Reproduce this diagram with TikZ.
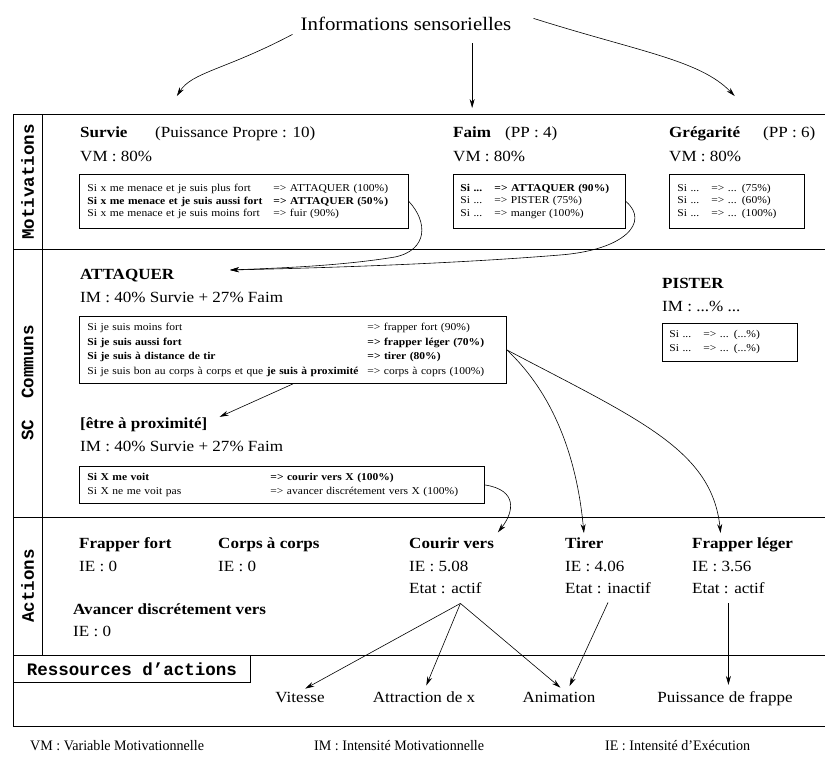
\documentclass[tikz,border=0pt]{standalone}
\usepackage{fontspec}
\setmainfont{Liberation Serif}[FakeStretch=1.1]
\setmonofont{Liberation Mono}
\newfontfamily\etroite{Liberation Serif}[FakeStretch=0.97]
\usetikzlibrary{arrows.meta,positioning,calc}

\newcommand\titre{\fontsize{19}{22}\selectfont}
\newcommand\grand{\fontsize{15.5}{18}\selectfont}
\newcommand\petit[1][12.5]{\fontsize{10.5}{#1}\selectfont}
\newcommand\legende{\etroite\fontsize{14.5}{17}\selectfont}
\newcommand\etiq{\fontsize{17.5}{20}\selectfont\ttfamily\bfseries}
\newcommand\regle[3]{\makebox[#1][l]{#2}#3}

\begin{document}
\begin{tikzpicture}[x=1pt,y=-1pt,
  cadre/.style={line width=1pt},
  fleche/.style={-{Stealth[length=9pt,width=5pt]},line width=0.6pt},
  texte/.style={anchor=base west,inner sep=0pt,font=\grand},
  entete/.style={texte,font=\grand\bfseries},
  ressource/.style={anchor=base,inner sep=0pt,font=\grand},
  regles/.style={draw,line width=0.9pt,anchor=north west,inner xsep=8pt,
                 inner ysep=0pt,align=left,font=\petit},
  colonne/.style={rotate=90,inner sep=0pt,font=\etiq}]

  \useasboundingbox (0,0) rectangle (825,776);

  % cadre general
  \draw[cadre] (825,114) -- (13,114) -- (13,726) -- (825,726);
  \draw[cadre] (13,249) -- (825,249);
  \draw[cadre] (13,517) -- (825,517);
  \draw[cadre] (13,655) -- (825,655);
  \draw[cadre] (42,114) -- (42,655);

  \node[colonne] (lmotiv) at (27.5,182) {Motivations};
  \node[colonne] (lsc) at (27.5,383) {SC\ \ Communs};
  \node[colonne] (lact) at (27.5,586) {Actions};
  \node[draw,cadre,anchor=north west,minimum width=237pt,minimum height=27pt,
        inner sep=0pt,font=\etiq] (lres) at (13,655) {Ressources d’actions};

  % entree
  \node[anchor=base,inner sep=0pt,font=\titre] (sens) at (406,31) {Informations sensorielles};

  % motivations
  \node[entete] (survie) at (80,137) {Survie};
  \node[texte] (ppsurvie) at (155,137) {(Puissance Propre : 10)};
  \node[texte] (vmsurvie) at (80,161) {VM : 80\%};
  \node[entete] (faim) at (453,137) {Faim};
  \node[texte] (ppfaim) at (505,137) {(PP : 4)};
  \node[texte] (vmfaim) at (453,161) {VM : 80\%};
  \node[entete] (greg) at (669,137) {Grégarité};
  \node[texte] (ppgreg) at (763,137) {(PP : 6)};
  \node[texte] (vmgreg) at (669,161) {VM : 80\%};

  \node[regles,text width=313pt,minimum height=54pt] (survbox) at (79,174) {%
    \regle{186pt}{Si x me menace et je suis plus fort}{=> ATTAQUER (100\%)}\\
    \regle{186pt}{\textbf{Si x me menace et je suis aussi fort}}{\textbf{=> ATTAQUER (50\%)}}\\
    \regle{186pt}{Si x me menace et je suis moins fort}{=> fuir (90\%)}};
  \node[regles,inner xsep=7pt,text width=158pt,minimum height=54pt] (faimbox) at (453,174) {%
    \regle{34pt}{\textbf{Si ...}}{\textbf{=> ATTAQUER (90\%)}}\\
    \regle{34pt}{Si ...}{=> PISTER (75\%)}\\
    \regle{34pt}{Si ...}{=> manger (100\%)}};
  \node[regles,text width=119pt,minimum height=54pt] (gregbox) at (669,174) {%
    \regle{34pt}{Si ...}{=> ... (75\%)}\\
    \regle{34pt}{Si ...}{=> ... (60\%)}\\
    \regle{34pt}{Si ...}{=> ... (100\%)}};

  % sc communs
  \node[entete] (attaquer) at (80,279) {ATTAQUER};
  \node[texte] (imatq) at (80,302) {IM : 40\% Survie + 27\% Faim};
  \node[regles,text width=411pt,minimum height=67pt,font={\petit[14.5]}] (atqbox) at (79,316) {%
    \regle{280pt}{Si je suis moins fort}{=> frapper fort (90\%)}\\
    \regle{280pt}{\textbf{Si je suis aussi fort}}{\textbf{=> frapper léger (70\%)}}\\
    \regle{280pt}{\textbf{Si je suis à distance de tir}}{\textbf{=> tirer (80\%)}}\\
    \regle{280pt}{Si je suis bon au corps à corps et que \textbf{je suis à proximité}}{=> corps à coprs (100\%)}};
  \coordinate (atqin) at (230,270);

  \node[entete] (pister) at (662,288) {PISTER};
  \node[texte] (impis) at (662,311) {IM : ...\% ...};
  \node[regles,inner xsep=7pt,text width=121pt,minimum height=38pt,font={\petit[14]}] (pisbox) at (662,323) {%
    \regle{34pt}{Si ...}{=> ... (...\%)}\\
    \regle{34pt}{Si ...}{=> ... (...\%)}};

  \node[entete] (prox) at (80,428) {[être à proximité]};
  \node[texte] (improx) at (80,451) {IM : 40\% Survie + 27\% Faim};
  \node[regles,text width=389pt,minimum height=37pt,font={\petit[13.5]}] (proxbox) at (79,466) {%
    \regle{183pt}{\textbf{Si X me voit}}{\textbf{=> courir vers X (100\%)}}\\
    \regle{183pt}{Si X ne me voit pas}{=> avancer discrétement vers X (100\%)}};

  % actions
  \node[entete] (ffort) at (79,548) {Frapper fort};
  \node[texte] (ieff) at (79,571) {IE : 0};
  \node[entete] (cac) at (218,548) {Corps à corps};
  \node[texte] (iecac) at (218,571) {IE : 0};
  \node[entete] (courir) at (409,548) {Courir vers};
  \node[texte] (iecv) at (409,571) {IE : 5.08};
  \node[texte] (etatcv) at (409,593) {Etat : actif};
  \node[entete] (tirer) at (565,548) {Tirer};
  \node[texte] (ietir) at (565,571) {IE : 4.06};
  \node[texte] (etattir) at (565,593) {Etat : inactif};
  \node[entete] (fleger) at (692,548) {Frapper léger};
  \node[texte] (iefl) at (692,571) {IE : 3.56};
  \node[texte] (etatfl) at (692,593) {Etat : actif};
  \node[entete] (avancer) at (73,614) {Avancer discrétement vers};
  \node[texte] (ieav) at (73,636) {IE : 0};

  % ressources
  \node[ressource] (vit) at (300,702) {Vitesse};
  \node[ressource] (attr) at (424,702) {Attraction de x};
  \node[ressource] (anim) at (559,702) {Animation};
  \node[ressource] (puis) at (725,702) {Puissance de frappe};

  % legende
  \node[texte,font=\legende] (lvm) at (30,750) {VM : Variable Motivationnelle};
  \node[texte,font=\legende] (lim) at (314,750) {IM : Intensité Motivationnelle};
  \node[texte,font=\legende] (lie) at (605,750) {IE : Intensité d’Exécution};

  % fleches
  \draw[fleche] ([shift={(-8,10)}]sens.west) .. controls (225,70) and (192,72) .. ([shift={(73,-30)}]survie.north);
  \draw[fleche,shorten <=12pt,shorten >=18pt] (sens.south -| faim.north) -- (faim.north);
  \draw[fleche] ([shift={(22,-6)}]sens.east) .. controls (640,52) and (700,60) .. ([shift={(30,-30)}]greg.north);

  \draw[fleche] (survbox.east) .. controls (428,222) and (428,250) .. (395,257)
                .. controls (340,266) and (280,268) .. (atqin);
  \draw[fleche] (faimbox.east) .. controls (650,222) and (625,250) .. (560,255)
                .. controls (450,264) and (320,268) .. (atqin);
  \draw[fleche] (atqbox.south) -- ([xshift=12pt]prox.north east);
  \draw[fleche,shorten >=4pt] (atqbox.east) .. controls (560,400) and (578,470) .. (tirer.north);
  \draw[fleche,shorten >=4pt] (atqbox.east) .. controls (640,420) and (712,450) .. ([xshift=29pt]fleger.north west);
  \draw[fleche,shorten >=6pt] (proxbox.east) .. controls (518,490) and (514,512) .. (courir.north east);

  \coordinate (fan) at ($(etatcv.south)+(15,10)$);
  \draw[fleche,shorten >=6pt] (fan) -- (vit.north);
  \draw[fleche,shorten >=6pt] (fan) -- (attr.north);
  \draw[fleche,shorten >=6pt] (fan) -- ([xshift=6pt]anim.north);
  \draw[fleche,shorten >=6pt] ([yshift=-9pt]etattir.south) -- ([xshift=8pt]anim.north);
  \draw[fleche,shorten >=6pt] ([yshift=-10pt]etatfl.south) -- (etatfl.south |- puis.north);
\end{tikzpicture}
\end{document}
